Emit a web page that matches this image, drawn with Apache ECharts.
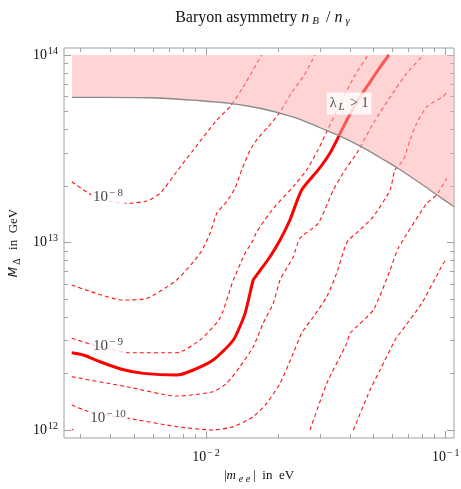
<!DOCTYPE html>
<html><head><meta charset="utf-8">
<script src="https://cdn.jsdelivr.net/npm/echarts@6/dist/echarts.min.js"></script>
<style>html,body{margin:0;padding:0;background:#fff}#c{width:461px;height:489px}</style>
</head><body><div id="c"></div>
<script>
// All values are log10: x = log10(|m_ee| / eV), y = log10(M_Delta / GeV)
const xMajorTicks = [-2, -1];
const yMajorTicks = [12, 13, 14];
const xMinorMultipliers = [2, 3, 4, 5, 6, 7, 8, 9];
const yMinorMultipliers = [2, 3, 4, 5, 6, 7, 8, 9];

// contour labelled 10^-8
const c8X = [-2.560, -2.477, -2.405, -2.331, -2.247, -2.192, -2.117, -2.053, -1.955, -1.900, -1.844, -1.768];
const c8Y = [13.324, 13.253, 13.221, 13.209, 13.221, 13.262, 13.387, 13.493, 13.653, 13.724, 13.831, 14.000];
// contour between 10^-8 and 10^-9
const c2X = [-2.560, -2.463, -2.352, -2.247, -2.122, -2.025, -1.983, -1.955, -1.914, -1.879, -1.851, -1.816, -1.783, -1.741, -1.691, -1.641, -1.595, -1.545];
const c2Y = [12.773, 12.731, 12.693, 12.702, 12.800, 12.942, 13.049, 13.156, 13.218, 13.289, 13.387, 13.493, 13.557, 13.616, 13.696, 13.803, 13.883, 14.000];
// contour labelled 10^-9
const c9X = [-2.560, -2.484, -2.400, -2.324, -2.122, -2.025, -1.942, -1.886, -1.837, -1.803, -1.788, -1.719, -1.636, -1.580, -1.533, -1.483, -1.433, -1.378, -1.324];
const c9Y = [12.489, 12.459, 12.432, 12.412, 12.412, 12.480, 12.596, 12.800, 12.942, 13.013, 13.058, 13.182, 13.298, 13.387, 13.493, 13.627, 13.760, 13.893, 14.000];
// observed value (thick solid)
const obsX = [-2.560, -2.512, -2.442, -2.352, -2.262, -2.122, -2.053, -1.970, -1.886, -1.837, -1.803, -1.788, -1.733, -1.691, -1.650, -1.601, -1.532, -1.483, -1.445, -1.408, -1.366, -1.324, -1.282, -1.237];
const obsY = [12.412, 12.400, 12.364, 12.324, 12.302, 12.293, 12.320, 12.373, 12.480, 12.622, 12.800, 12.827, 12.924, 13.013, 13.120, 13.280, 13.387, 13.476, 13.570, 13.664, 13.760, 13.840, 13.920, 14.000];
// contour below observed
const c4X = [-2.560, -2.331, -2.122, -1.970, -1.914, -1.858, -1.803, -1.761, -1.719, -1.691, -1.636, -1.608, -1.532, -1.469, -1.420, -1.371, -1.302, -1.212, -1.163, -1.093];
const c4Y = [12.284, 12.231, 12.181, 12.204, 12.249, 12.338, 12.444, 12.571, 12.677, 12.800, 12.924, 13.022, 13.102, 13.280, 13.387, 13.476, 13.636, 13.813, 13.902, 14.000];
// contour labelled 10^-10
const c10X = [-2.560, -2.484, -2.324, -2.122, -1.970, -1.886, -1.803, -1.747, -1.691, -1.636, -1.601, -1.552, -1.496, -1.455, -1.420, -1.406, -1.358, -1.302, -1.232, -1.212, -1.177, -1.149, -1.121, -1.079, -1.010, -0.996];
const c10Y = [12.133, 12.096, 12.062, 12.018, 12.000, 12.018, 12.071, 12.142, 12.249, 12.409, 12.516, 12.604, 12.711, 12.836, 12.978, 13.013, 13.067, 13.138, 13.280, 13.387, 13.440, 13.547, 13.636, 13.724, 13.778, 13.803];
// lower-right contours
const c11X = [-1.566, -1.496, -1.413, -1.399, -1.302, -1.232, -1.198, -1.079, -1.038, -0.996];
const c11Y = [12.000, 12.249, 12.462, 12.516, 12.640, 12.853, 12.969, 13.209, 13.253, 13.342];
const c12X = [-1.385, -1.316, -1.274, -1.204, -1.191, -1.100, -1.010, -0.996];
const c12Y = [12.000, 12.213, 12.320, 12.498, 12.516, 12.676, 12.889, 12.910];
const cornerX = [-2.560, -2.553];
const cornerY = [12.004, 12.000];

// lambda_L = 1 boundary
const bndX = [-2.559, -2.442, -2.234, -2.025, -1.900, -1.775, -1.679, -1.608, -1.524, -1.445, -1.345, -1.274, -1.203, -1.107, -1.036, -0.965];
const bndY = [13.774, 13.774, 13.772, 13.756, 13.742, 13.716, 13.685, 13.657, 13.612, 13.570, 13.506, 13.453, 13.399, 13.317, 13.253, 13.191];
const regionTopY = 14.0;

const labelTexts = ['10{sup|−\u20098}', '10{sup|−\u20099}', '10{sup|−\u200910}'];
const labelPos = [[-2.409, 13.240], [-2.409, 12.445], [-2.409, 12.064]];
const lambdaPos = [-1.403, 13.741];

// ---- layout ----
const X_MIN = -2.5924, X_MAX = -0.9654, Y_MIN = 11.9573, Y_MAX = 14.0373;
const SERIF = 'Liberation Serif';
const FRAME = '#a0a0a0';
const INK = '#111';
const xMinor = [];
[-3, -2].forEach(e => xMinorMultipliers.forEach(k => { const v = Math.log10(k) + e; if (v > X_MIN && v < X_MAX) xMinor.push(v); }));
const yMinor = [];
[11, 12, 13].forEach(e => yMinorMultipliers.forEach(k => { const v = Math.log10(k) + e; if (v > Y_MIN && v < Y_MAX) yMinor.push(v); }));

const supRich = {
  sup: { fontSize: 10, fontFamily: SERIF, color: INK, padding: [0, 0, 8, 1] },
};
function pts(xs, ys) { return xs.map((x, i) => [x, ys[i]]); }
function axisX(pos, ticks, len, withLabel) {
  return {
    type: 'value', position: pos, min: X_MIN, max: X_MAX,
    axisLine: { show: false }, splitLine: { show: false },
    axisTick: { show: true, inside: true, length: len, customValues: ticks, lineStyle: { color: FRAME, width: 1 } },
    axisLabel: withLabel ? {
      show: true, customValues: ticks, margin: 10, fontFamily: SERIF, fontSize: 14, color: INK,
      formatter: v => '10{sup|−\u2009' + Math.abs(Math.round(v)) + '}', rich: supRich
    } : { show: false }
  };
}
function axisY(pos, ticks, len, withLabel) {
  return {
    type: 'value', position: pos, min: Y_MIN, max: Y_MAX,
    axisLine: { show: false }, splitLine: { show: false },
    axisTick: { show: true, inside: true, length: len, customValues: ticks, lineStyle: { color: FRAME, width: 1 } },
    axisLabel: withLabel ? {
      show: true, customValues: ticks, margin: 6, fontFamily: SERIF, fontSize: 14, color: INK,
      formatter: v => '10{sup|' + Math.round(v) + '}', rich: supRich
    } : { show: false }
  };
}
const xAxes = [axisX('bottom', xMajorTicks, 7, true), axisX('bottom', xMinor, 4, false), axisX('top', xMajorTicks, 7, false), axisX('top', xMinor, 4, false)];
const yAxes = [axisY('left', yMajorTicks, 7, true), axisY('left', yMinor, 4, false), axisY('right', yMajorTicks, 7, false), axisY('right', yMinor, 4, false)];
Object.assign(xAxes[0], {
  name: '|{i|m}{sub|e e}|  in  eV', nameLocation: 'middle', nameGap: 27,
  nameTextStyle: { fontFamily: SERIF, fontSize: 13, color: INK, rich: {
    i: { fontFamily: SERIF, fontStyle: 'italic', fontSize: 13, color: INK },
    sub: { fontFamily: SERIF, fontStyle: 'italic', fontSize: 10, color: INK, padding: [7, 3, 0, 3] } } }
});
Object.assign(yAxes[0], {
  name: '{i|M}{sub|Δ}  in  GeV', nameLocation: 'middle', nameGap: 40, nameRotate: 90,
  nameTextStyle: { fontFamily: SERIF, fontSize: 13, color: INK, rich: {
    i: { fontFamily: 'DejaVu Sans', fontStyle: 'italic', fontSize: 12, color: INK },
    sub: { fontFamily: SERIF, fontSize: 10, color: INK, padding: [7, 2, 0, 2] } } }
});

function contour(xs, ys, thick) {
  return {
    type: 'line', data: pts(xs, ys), showSymbol: false, symbol: 'none', z: thick ? 3 : 2, silent: true, smooth: 0.2,
    lineStyle: thick ? { color: '#ff0000', width: 3 } : { color: '#ff1010', width: 1.1, type: [4, 3] }
  };
}

const series = [
  contour(c8X, c8Y), contour(c2X, c2Y), contour(c9X, c9Y), contour(c4X, c4Y),
  contour(c10X, c10Y), contour(c11X, c11Y), contour(c12X, c12Y), contour(cornerX, cornerY),
  contour(obsX, obsY, true),
  {
    type: 'custom', z: 4, silent: true, clip: true,
    data: [[bndX[0], regionTopY]],
    renderItem: function (params, api) {
      const p = bndX.map((x, i) => api.coord([x, bndY[i]]));
      p.push(api.coord([bndX[bndX.length - 1], regionTopY]));
      p.push(api.coord([bndX[0], regionTopY]));
      return { type: 'polygon', shape: { points: p }, style: { fill: 'rgba(255,170,170,0.5)' } };
    }
  },
  {
    type: 'line', data: pts(bndX, bndY), showSymbol: false, symbol: 'none', z: 5, silent: true, smooth: 0.3,
    lineStyle: { color: '#8a8a8a', width: 1.3 }
  },
  {
    type: 'scatter', z: 6, silent: true, symbolSize: 1, itemStyle: { color: 'rgba(0,0,0,0)' },
    data: labelPos.map((p, i) => ({ value: p, label: { formatter: labelTexts[i] } })),
    label: { show: true, position: 'inside', fontFamily: SERIF, fontSize: 15, color: INK,
      backgroundColor: '#fff', padding: [1, 2], rich: { sup: { fontSize: 11, fontFamily: SERIF, color: INK, padding: [0, 0, 8, 1] } } }
  },
  {
    type: 'scatter', z: 6, silent: true, symbolSize: 1, itemStyle: { color: 'rgba(0,0,0,0)' },
    data: [lambdaPos],
    label: { show: true, position: 'inside', formatter: 'λ{sub|L} > 1', fontFamily: SERIF, fontSize: 14, color: INK,
      backgroundColor: '#fff', padding: [2, 3], rich: { sub: { fontFamily: SERIF, fontStyle: 'italic', fontSize: 11, color: INK, padding: [7, 2, 0, 2] } } }
  }
];

const chart = echarts.init(document.getElementById('c'), null, { renderer: 'canvas' });
chart.setOption({
  animation: false,
  backgroundColor: '#fff',
  title: {
    text: '{t|Baryon asymmetry }{i|n}{sub|B}{t| / }{i|n}{sub|γ}',
    left: 259, top: 3, textAlign: 'center',
    textStyle: { fontWeight: 'normal', rich: {
      t: { fontFamily: SERIF, fontSize: 16, fontWeight: 'normal', color: INK },
      i: { fontFamily: SERIF, fontStyle: 'italic', fontWeight: 'normal', fontSize: 16, color: INK },
      sub: { fontFamily: SERIF, fontStyle: 'italic', fontWeight: 'normal', fontSize: 11, color: INK, padding: [8, 3, 0, 3] } } }
  },
  grid: { left: 64, top: 48, width: 390, height: 390, show: true, borderColor: FRAME, borderWidth: 1, backgroundColor: 'transparent', containLabel: false, outerBoundsMode: 'none' },
  xAxis: xAxes,
  yAxis: yAxes,
  series: series
});
</script></body></html>
